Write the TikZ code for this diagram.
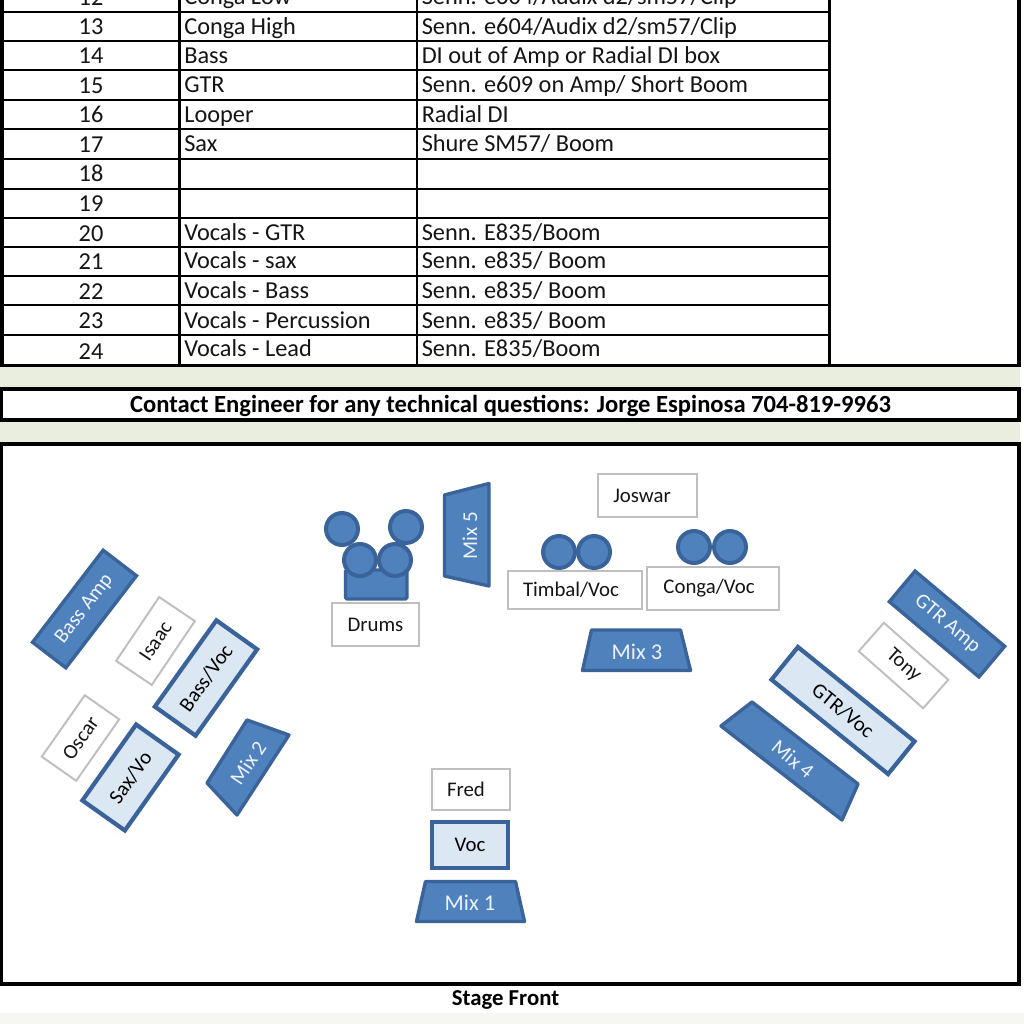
\documentclass[tikz,border=0pt]{standalone}
\usepackage{fontspec}
\setmainfont{Carlito}
\definecolor{mixfill}{HTML}{4F81BD}
\definecolor{mixline}{HTML}{3A639A}
\definecolor{vocfill}{HTML}{DBE8F3}
\definecolor{greybox}{HTML}{BFBFBF}
\definecolor{band}{HTML}{EAEEDF}
\definecolor{ink}{HTML}{151515}
\tikzset{
  px/.style={x=0.025cm,y=-0.025cm},
  wh/.style 2 args={minimum width=#1*0.025cm,minimum height=#2*0.025cm},
  celltext/.style={inner sep=0pt,anchor=base west,text=ink,font=\fontsize{17.3}{19}\selectfont},
  cellnum/.style={inner sep=0pt,anchor=base,text=ink,font=\fontsize{17.3}{19}\selectfont},
  tableline/.style={draw=black,line width=2pt},
  thinline/.style={draw=black,line width=1.7pt},
  frameline/.style={draw=black,line width=2.5pt},
  boldtext/.style={inner sep=0pt,text=black,font=\fontsize{17.5}{19}\selectfont\bfseries},
  person/.style={draw=greybox,fill=white,line width=1.4pt,inner sep=0pt,text=ink,font=\fontsize{14.8}{16}\selectfont},
  vocbox/.style={draw=mixline,fill=vocfill,line width=3pt,inner sep=0pt,text=black,font=\fontsize{14.8}{16}\selectfont},
  ampbox/.style={draw=mixline,fill=mixfill,line width=2.4pt,inner sep=0pt,text=white!92!mixfill,font=\fontsize{14.8}{16}\selectfont},
  mixshape/.style={draw=mixline,fill=mixfill,line width=2.4pt,line join=round},
  mixlabel/.style={inner sep=0pt,text=white!90!mixfill,font=\fontsize{16}{18}\selectfont},
  mixtilt/.style={mixlabel,font=\fontsize{15}{17}\selectfont},
  drum/.style={circle,draw=mixline,fill=mixfill,line width=2.8pt,inner sep=0pt,minimum size=0.8cm},
}
\begin{document}
\begin{tikzpicture}[px]
\useasboundingbox (0,0) rectangle (1024,1024);
\begin{scope}
\clip (0,0) rectangle (1024,1024);
\fill[white] (0,0) rectangle (1024,1024);
\fill[band] (0,367) rectangle (1020,443);
\fill[band!45!white] (0,1013) rectangle (1024,1024);
% table
\fill[white] (2,0) rectangle (1019,365);
\foreach \yy in {12,70,100,159,247,276,335}{\draw[tableline] (2,\yy) -- (829,\yy);}
\foreach \yy in {41,129,189,218,305}{\draw[thinline] (2,\yy) -- (829,\yy);}
\draw[tableline] (179.5,0) -- (179.5,365);
\draw[tableline] (417,0) -- (417,365);
\draw[tableline] (829.5,0) -- (829.5,365);
\draw[frameline] (2,-5) -- (2,365.5) -- (1019,365.5) -- (1019,-5);
\foreach \idx/\yn/\nm/\yt/\mc in {
 12/6/{Conga Low}/5/{Senn. e604/Audix d2/sm57/Clip},
 13/35/{Conga High}/34.5/{Senn. e604/Audix d2/sm57/Clip},
 14/64/{Bass}/63.5/{DI out of Amp or Radial DI box},
 15/94/{GTR}/93/{Senn. e609 on Amp/ Short Boom},
 16/123/{Looper}/122.5/{Radial DI},
 17/153/{Sax}/152/{Shure SM57/ Boom},
 18/182/{}/181/{},
 19/212/{}/210/{},
 20/241/{Vocals - GTR}/240.5/{Senn. E835/Boom},
 21/269.5/{Vocals - sax}/269/{Senn. e835/ Boom},
 22/299/{Vocals - Bass}/298.5/{Senn. e835/ Boom},
 23/328/{Vocals - Percussion}/328/{Senn. e835/ Boom},
 24/359/{Vocals - Lead}/356.5/{Senn. E835/Boom}}{
  \node[cellnum] (num\idx) at (91,\yn) {\idx};
  \node[celltext] (name\idx) at (184,\yt) {\nm};
  \node[celltext] (mic\idx) at (421.5,\yt) {\mc};
}
% contact
\draw[frameline,fill=white] (1.5,389) rectangle (1019,420);
\node[boldtext] (contact) at (510.5,405.5) {Contact Engineer for any technical questions: Jorge Espinosa 704-819-9963};
% stage
\draw[frameline,line width=2.8pt,fill=white] (1,444) rectangle (1019,984);
\node[boldtext,font=\fontsize{16.2}{18}\selectfont\bfseries] (front) at (505.5,1000) {Stage Front};
% left group
\node[ampbox,wh={116}{42},rotate=52.5] (bassamp) at (84.5,609) {Bass Amp};
\node[person,wh={77}{43},rotate=56] (isaac) at (155.5,641) {Isaac};
\node[vocbox,wh={106}{50},rotate=54.5] (bassvoc) at (206,678) {Bass/Voc};
\node[person,wh={75}{42},rotate=55] (oscar) at (80.5,738) {Oscar};
\node[vocbox,wh={93}{52},rotate=54.7] (saxvo) at (130.5,777.5) {Sax/Vo};
\draw[mixshape] (247,720) -- (289,735) -- (237,815) -- (207,783) -- cycle;
\node[mixtilt,rotate=56] (mix2) at (248,763) {Mix 2};
% drums
\draw[mixshape,rounded corners=1pt] (345.5,570) rectangle (407,599);
\node[drum] (d1) at (342,529) {};
\node[drum] (d2) at (406,527) {};
\node[drum] (d3) at (360,560) {};
\node[drum] (d4) at (395,560) {};
\node[person,wh={87}{43}] (drums) at (375.5,624.5) {Drums};
\draw[mixshape] (444.5,495) -- (489,483.5) -- (489,586) -- (444.5,576) -- cycle;
\node[mixtilt,rotate=90] (mix5) at (470,536) {Mix 5};
% percussion
\node[person,wh={99}{43},text width=90*0.025cm,align=left] (joswar) at (647.5,495.5) {\hspace{0.27cm}Joswar};
\node[drum] (t1) at (559,552) {};
\node[drum] (t2) at (594,552) {};
\node[drum] (c1) at (694,547) {};
\node[drum] (c2) at (730,547) {};
\node[person,wh={134}{38}] (timbal) at (575,590) {\raisebox{-1.2pt}{\hspace{-0.2cm}Timbal/Voc}};
\node[person,wh={132}{43}] (conga) at (713,588.5) {\hspace{-0.2cm}Conga/Voc};
\draw[mixshape] (591.5,630) -- (680.5,630) -- (690.5,670.5) -- (582.5,670.5) -- cycle;
\node[mixlabel] (mix3) at (637,652) {Mix 3};
% right group
\node[ampbox,wh={117}{40},rotate=-40] (gtramp) at (947,624) {GTR Amp};
\node[person,wh={86}{38},rotate=-41.5] (tony) at (903.5,665.5) {Tony};
\node[vocbox,wh={150}{42},rotate=-39] (gtrvoc) at (843,710.5) {GTR/Voc};
\draw[mixshape] (752,702) -- (858,784) -- (842,820) -- (721,726) -- cycle;
\node[mixtilt,rotate=-40] (mix4) at (793,759) {Mix 4};
% front
\node[person,wh={78}{41}] (fred) at (471,789.5) {\hspace{-0.25cm}Fred};
\node[vocbox,wh={76}{46}] (voc) at (470,845) {\raisebox{-1pt}{Voc}};
\draw[mixshape] (425.5,881.5) -- (515.5,881.5) -- (524.5,921.5) -- (416.5,921.5) -- cycle;
\node[mixlabel] (mix1) at (470,903) {Mix 1};
\end{scope}
\end{tikzpicture}
\end{document}
